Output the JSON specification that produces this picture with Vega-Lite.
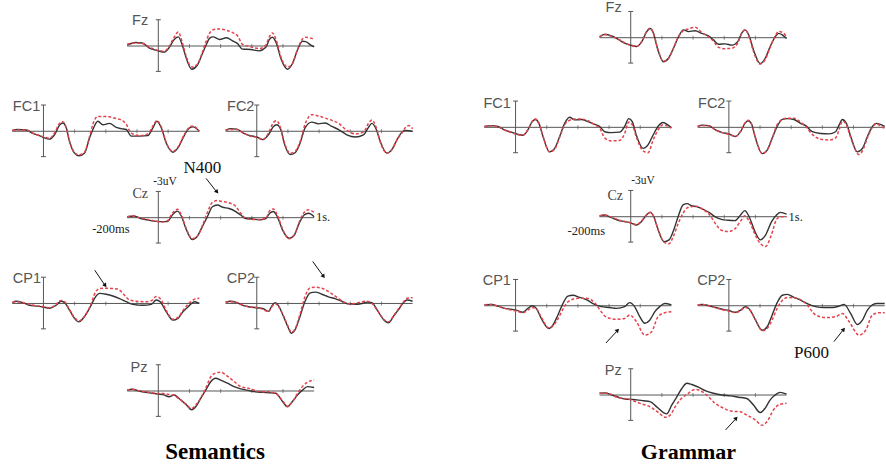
{
"$schema": "https://vega.github.io/schema/vega-lite/v6.json",
"background": "white",
"padding": {"left": 9.3, "top": 0, "right": 5, "bottom": 5},
"bounds": "flush",
"columns": 4,
"spacing": {"row": 17.8, "column": 26.3},
"config": {"view": {"stroke": null}},
"datasets": {
"tk": [{"t":200},{"t":400},{"t":600},{"t":800}],
"w": [
{"p":"SFz","c":"b","t":-200,"v":-0.1},{"p":"SFz","c":"b","t":-146,"v":-0.4},{"p":"SFz","c":"b","t":-103,"v":-0.35},{"p":"SFz","c":"b","t":-60,"v":0.2},{"p":"SFz","c":"b","t":0,"v":0.55},{"p":"SFz","c":"b","t":36,"v":0.7},{"p":"SFz","c":"b","t":69,"v":0.2},{"p":"SFz","c":"b","t":100,"v":-0.7},{"p":"SFz","c":"b","t":128,"v":-1.05},{"p":"SFz","c":"b","t":154,"v":-0.1},{"p":"SFz","c":"b","t":176,"v":1.2},{"p":"SFz","c":"b","t":214,"v":2.65},{"p":"SFz","c":"b","t":250,"v":2.2},{"p":"SFz","c":"b","t":283,"v":0.85},{"p":"SFz","c":"b","t":304,"v":0},{"p":"SFz","c":"b","t":330,"v":-0.9},{"p":"SFz","c":"b","t":351,"v":-1.05},{"p":"SFz","c":"b","t":394,"v":-0.75},{"p":"SFz","c":"b","t":437,"v":-0.95},{"p":"SFz","c":"b","t":480,"v":-0.55},{"p":"SFz","c":"b","t":507,"v":-0.3},{"p":"SFz","c":"b","t":540,"v":0.35},{"p":"SFz","c":"b","t":593,"v":0.4},{"p":"SFz","c":"b","t":647,"v":0.55},{"p":"SFz","c":"b","t":690,"v":0.15},{"p":"SFz","c":"b","t":711,"v":-0.7},{"p":"SFz","c":"b","t":732,"v":-1.0},{"p":"SFz","c":"b","t":758,"v":-0.3},{"p":"SFz","c":"b","t":786,"v":1.4},{"p":"SFz","c":"b","t":829,"v":2.65},{"p":"SFz","c":"b","t":861,"v":2.0},{"p":"SFz","c":"b","t":893,"v":0.45},{"p":"SFz","c":"b","t":925,"v":-0.55},{"p":"SFz","c":"b","t":946,"v":-0.5},{"p":"SFz","c":"b","t":979,"v":-0.1},{"p":"SFz","c":"b","t":1000,"v":0.1},
{"p":"SFz","c":"r","t":-200,"v":-0.2},{"p":"SFz","c":"r","t":-146,"v":-0.35},{"p":"SFz","c":"r","t":-103,"v":-0.3},{"p":"SFz","c":"r","t":-60,"v":0.1},{"p":"SFz","c":"r","t":0,"v":0.5},{"p":"SFz","c":"r","t":36,"v":0.6},{"p":"SFz","c":"r","t":69,"v":0.05},{"p":"SFz","c":"r","t":100,"v":-0.95},{"p":"SFz","c":"r","t":128,"v":-1.6},{"p":"SFz","c":"r","t":154,"v":-0.4},{"p":"SFz","c":"r","t":176,"v":1.0},{"p":"SFz","c":"r","t":214,"v":2.4},{"p":"SFz","c":"r","t":250,"v":2.1},{"p":"SFz","c":"r","t":283,"v":0.7},{"p":"SFz","c":"r","t":304,"v":-0.4},{"p":"SFz","c":"r","t":330,"v":-1.5},{"p":"SFz","c":"r","t":351,"v":-1.85},{"p":"SFz","c":"r","t":394,"v":-1.95},{"p":"SFz","c":"r","t":437,"v":-1.8},{"p":"SFz","c":"r","t":480,"v":-1.5},{"p":"SFz","c":"r","t":507,"v":-1.2},{"p":"SFz","c":"r","t":540,"v":-0.2},{"p":"SFz","c":"r","t":593,"v":0.1},{"p":"SFz","c":"r","t":647,"v":0.3},{"p":"SFz","c":"r","t":690,"v":-0.1},{"p":"SFz","c":"r","t":711,"v":-1.0},{"p":"SFz","c":"r","t":732,"v":-1.5},{"p":"SFz","c":"r","t":758,"v":-0.6},{"p":"SFz","c":"r","t":786,"v":1.2},{"p":"SFz","c":"r","t":829,"v":2.4},{"p":"SFz","c":"r","t":861,"v":2.0},{"p":"SFz","c":"r","t":893,"v":0.4},{"p":"SFz","c":"r","t":925,"v":-0.8},{"p":"SFz","c":"r","t":946,"v":-1.0},{"p":"SFz","c":"r","t":979,"v":-0.9},{"p":"SFz","c":"r","t":1000,"v":-0.75},
{"p":"SFC1","c":"b","t":-200,"v":-0.1},{"p":"SFC1","c":"b","t":-165,"v":-0.2},{"p":"SFC1","c":"b","t":-111,"v":-0.15},{"p":"SFC1","c":"b","t":-69,"v":0.25},{"p":"SFC1","c":"b","t":-26,"v":0.5},{"p":"SFC1","c":"b","t":6,"v":0.75},{"p":"SFC1","c":"b","t":39,"v":0.9},{"p":"SFC1","c":"b","t":71,"v":0.4},{"p":"SFC1","c":"b","t":103,"v":-0.7},{"p":"SFC1","c":"b","t":124,"v":-0.95},{"p":"SFC1","c":"b","t":146,"v":-0.4},{"p":"SFC1","c":"b","t":167,"v":1.15},{"p":"SFC1","c":"b","t":199,"v":2.5},{"p":"SFC1","c":"b","t":227,"v":2.8},{"p":"SFC1","c":"b","t":263,"v":2.5},{"p":"SFC1","c":"b","t":296,"v":0.75},{"p":"SFC1","c":"b","t":317,"v":-0.2},{"p":"SFC1","c":"b","t":349,"v":-1.15},{"p":"SFC1","c":"b","t":381,"v":-0.75},{"p":"SFC1","c":"b","t":424,"v":-0.9},{"p":"SFC1","c":"b","t":467,"v":-0.45},{"p":"SFC1","c":"b","t":499,"v":-0.3},{"p":"SFC1","c":"b","t":531,"v":-0.2},{"p":"SFC1","c":"b","t":563,"v":0.55},{"p":"SFC1","c":"b","t":617,"v":0.55},{"p":"SFC1","c":"b","t":670,"v":0.5},{"p":"SFC1","c":"b","t":702,"v":-0.4},{"p":"SFC1","c":"b","t":728,"v":-1.15},{"p":"SFC1","c":"b","t":756,"v":-0.4},{"p":"SFC1","c":"b","t":788,"v":1.35},{"p":"SFC1","c":"b","t":831,"v":2.4},{"p":"SFC1","c":"b","t":863,"v":1.9},{"p":"SFC1","c":"b","t":906,"v":0.4},{"p":"SFC1","c":"b","t":938,"v":-0.4},{"p":"SFC1","c":"b","t":959,"v":-0.5},{"p":"SFC1","c":"b","t":1000,"v":0},
{"p":"SFC1","c":"r","t":-200,"v":-0.1},{"p":"SFC1","c":"r","t":-165,"v":-0.15},{"p":"SFC1","c":"r","t":-111,"v":-0.15},{"p":"SFC1","c":"r","t":-69,"v":0.2},{"p":"SFC1","c":"r","t":-26,"v":0.5},{"p":"SFC1","c":"r","t":6,"v":0.65},{"p":"SFC1","c":"r","t":39,"v":0.8},{"p":"SFC1","c":"r","t":71,"v":0.2},{"p":"SFC1","c":"r","t":103,"v":-0.9},{"p":"SFC1","c":"r","t":124,"v":-1.1},{"p":"SFC1","c":"r","t":146,"v":-0.4},{"p":"SFC1","c":"r","t":167,"v":1.1},{"p":"SFC1","c":"r","t":199,"v":2.4},{"p":"SFC1","c":"r","t":227,"v":2.7},{"p":"SFC1","c":"r","t":263,"v":2.4},{"p":"SFC1","c":"r","t":296,"v":0.6},{"p":"SFC1","c":"r","t":317,"v":-0.8},{"p":"SFC1","c":"r","t":349,"v":-1.7},{"p":"SFC1","c":"r","t":381,"v":-1.7},{"p":"SFC1","c":"r","t":424,"v":-1.65},{"p":"SFC1","c":"r","t":467,"v":-1.45},{"p":"SFC1","c":"r","t":499,"v":-1.3},{"p":"SFC1","c":"r","t":531,"v":-0.8},{"p":"SFC1","c":"r","t":563,"v":0.2},{"p":"SFC1","c":"r","t":617,"v":0.5},{"p":"SFC1","c":"r","t":670,"v":0.3},{"p":"SFC1","c":"r","t":702,"v":-0.6},{"p":"SFC1","c":"r","t":728,"v":-1.2},{"p":"SFC1","c":"r","t":756,"v":-0.5},{"p":"SFC1","c":"r","t":788,"v":1.3},{"p":"SFC1","c":"r","t":831,"v":2.3},{"p":"SFC1","c":"r","t":863,"v":1.8},{"p":"SFC1","c":"r","t":906,"v":0.3},{"p":"SFC1","c":"r","t":938,"v":-0.5},{"p":"SFC1","c":"r","t":959,"v":-0.6},{"p":"SFC1","c":"r","t":1000,"v":0},
{"p":"SFC2","c":"b","t":-200,"v":-0.1},{"p":"SFC2","c":"b","t":-171,"v":-0.3},{"p":"SFC2","c":"b","t":-128,"v":-0.25},{"p":"SFC2","c":"b","t":-86,"v":0.2},{"p":"SFC2","c":"b","t":-43,"v":0.5},{"p":"SFC2","c":"b","t":0,"v":0.65},{"p":"SFC2","c":"b","t":39,"v":0.95},{"p":"SFC2","c":"b","t":75,"v":0.4},{"p":"SFC2","c":"b","t":107,"v":-0.55},{"p":"SFC2","c":"b","t":128,"v":-0.75},{"p":"SFC2","c":"b","t":154,"v":-0.2},{"p":"SFC2","c":"b","t":176,"v":1.35},{"p":"SFC2","c":"b","t":214,"v":2.65},{"p":"SFC2","c":"b","t":246,"v":2.45},{"p":"SFC2","c":"b","t":278,"v":1.35},{"p":"SFC2","c":"b","t":310,"v":-0.4},{"p":"SFC2","c":"b","t":353,"v":-1.05},{"p":"SFC2","c":"b","t":396,"v":-0.85},{"p":"SFC2","c":"b","t":439,"v":-0.95},{"p":"SFC2","c":"b","t":482,"v":-0.55},{"p":"SFC2","c":"b","t":525,"v":-0.2},{"p":"SFC2","c":"b","t":578,"v":0.4},{"p":"SFC2","c":"b","t":632,"v":0.65},{"p":"SFC2","c":"b","t":685,"v":0.4},{"p":"SFC2","c":"b","t":717,"v":-0.45},{"p":"SFC2","c":"b","t":739,"v":-0.9},{"p":"SFC2","c":"b","t":767,"v":-0.2},{"p":"SFC2","c":"b","t":792,"v":1.15},{"p":"SFC2","c":"b","t":835,"v":2.5},{"p":"SFC2","c":"b","t":867,"v":2.1},{"p":"SFC2","c":"b","t":899,"v":1.0},{"p":"SFC2","c":"b","t":931,"v":0.1},{"p":"SFC2","c":"b","t":953,"v":-0.1},{"p":"SFC2","c":"b","t":1000,"v":0},
{"p":"SFC2","c":"r","t":-200,"v":-0.1},{"p":"SFC2","c":"r","t":-171,"v":-0.2},{"p":"SFC2","c":"r","t":-128,"v":-0.2},{"p":"SFC2","c":"r","t":-86,"v":0.2},{"p":"SFC2","c":"r","t":-43,"v":0.55},{"p":"SFC2","c":"r","t":0,"v":0.7},{"p":"SFC2","c":"r","t":39,"v":0.95},{"p":"SFC2","c":"r","t":75,"v":0.2},{"p":"SFC2","c":"r","t":107,"v":-1.0},{"p":"SFC2","c":"r","t":128,"v":-1.2},{"p":"SFC2","c":"r","t":154,"v":-0.3},{"p":"SFC2","c":"r","t":176,"v":1.2},{"p":"SFC2","c":"r","t":214,"v":2.5},{"p":"SFC2","c":"r","t":246,"v":2.3},{"p":"SFC2","c":"r","t":278,"v":1.2},{"p":"SFC2","c":"r","t":310,"v":-0.8},{"p":"SFC2","c":"r","t":353,"v":-1.9},{"p":"SFC2","c":"r","t":396,"v":-1.75},{"p":"SFC2","c":"r","t":439,"v":-1.5},{"p":"SFC2","c":"r","t":482,"v":-1.25},{"p":"SFC2","c":"r","t":525,"v":-0.9},{"p":"SFC2","c":"r","t":578,"v":-0.1},{"p":"SFC2","c":"r","t":632,"v":0.3},{"p":"SFC2","c":"r","t":685,"v":0.1},{"p":"SFC2","c":"r","t":717,"v":-0.9},{"p":"SFC2","c":"r","t":739,"v":-1.3},{"p":"SFC2","c":"r","t":767,"v":-0.4},{"p":"SFC2","c":"r","t":792,"v":1.2},{"p":"SFC2","c":"r","t":835,"v":2.5},{"p":"SFC2","c":"r","t":867,"v":2.1},{"p":"SFC2","c":"r","t":899,"v":1.0},{"p":"SFC2","c":"r","t":931,"v":0.2},{"p":"SFC2","c":"r","t":953,"v":-0.4},{"p":"SFC2","c":"r","t":975,"v":-0.65},{"p":"SFC2","c":"r","t":1000,"v":-0.3},
{"p":"SCz","c":"b","t":-200,"v":-0.1},{"p":"SCz","c":"b","t":-156,"v":-0.2},{"p":"SCz","c":"b","t":-113,"v":0.1},{"p":"SCz","c":"b","t":-71,"v":0.25},{"p":"SCz","c":"b","t":-28,"v":0.4},{"p":"SCz","c":"b","t":15,"v":0.45},{"p":"SCz","c":"b","t":58,"v":0.45},{"p":"SCz","c":"b","t":90,"v":-0.3},{"p":"SCz","c":"b","t":122,"v":-0.75},{"p":"SCz","c":"b","t":150,"v":-0.1},{"p":"SCz","c":"b","t":176,"v":1.2},{"p":"SCz","c":"b","t":218,"v":2.5},{"p":"SCz","c":"b","t":251,"v":2.1},{"p":"SCz","c":"b","t":283,"v":1.0},{"p":"SCz","c":"b","t":315,"v":-0.1},{"p":"SCz","c":"b","t":347,"v":-1.25},{"p":"SCz","c":"b","t":379,"v":-1.45},{"p":"SCz","c":"b","t":411,"v":-1.2},{"p":"SCz","c":"b","t":454,"v":-1.05},{"p":"SCz","c":"b","t":497,"v":-0.7},{"p":"SCz","c":"b","t":529,"v":-0.3},{"p":"SCz","c":"b","t":561,"v":0.1},{"p":"SCz","c":"b","t":604,"v":0.15},{"p":"SCz","c":"b","t":647,"v":0.25},{"p":"SCz","c":"b","t":690,"v":0.1},{"p":"SCz","c":"b","t":715,"v":-0.5},{"p":"SCz","c":"b","t":737,"v":-0.7},{"p":"SCz","c":"b","t":764,"v":-0.1},{"p":"SCz","c":"b","t":797,"v":1.4},{"p":"SCz","c":"b","t":839,"v":2.35},{"p":"SCz","c":"b","t":872,"v":2.0},{"p":"SCz","c":"b","t":904,"v":0.65},{"p":"SCz","c":"b","t":936,"v":-0.3},{"p":"SCz","c":"b","t":964,"v":-0.5},{"p":"SCz","c":"b","t":1000,"v":-0.1},
{"p":"SCz","c":"r","t":-200,"v":-0.1},{"p":"SCz","c":"r","t":-156,"v":-0.2},{"p":"SCz","c":"r","t":-113,"v":0.05},{"p":"SCz","c":"r","t":-71,"v":0.2},{"p":"SCz","c":"r","t":-28,"v":0.35},{"p":"SCz","c":"r","t":15,"v":0.5},{"p":"SCz","c":"r","t":58,"v":0.35},{"p":"SCz","c":"r","t":90,"v":-0.5},{"p":"SCz","c":"r","t":122,"v":-0.95},{"p":"SCz","c":"r","t":150,"v":-0.2},{"p":"SCz","c":"r","t":176,"v":1.1},{"p":"SCz","c":"r","t":218,"v":2.4},{"p":"SCz","c":"r","t":251,"v":2.1},{"p":"SCz","c":"r","t":283,"v":0.9},{"p":"SCz","c":"r","t":315,"v":-0.6},{"p":"SCz","c":"r","t":347,"v":-1.75},{"p":"SCz","c":"r","t":379,"v":-1.95},{"p":"SCz","c":"r","t":411,"v":-1.85},{"p":"SCz","c":"r","t":454,"v":-1.7},{"p":"SCz","c":"r","t":497,"v":-1.3},{"p":"SCz","c":"r","t":529,"v":-0.5},{"p":"SCz","c":"r","t":561,"v":0.05},{"p":"SCz","c":"r","t":604,"v":0.2},{"p":"SCz","c":"r","t":647,"v":0.2},{"p":"SCz","c":"r","t":690,"v":0.05},{"p":"SCz","c":"r","t":715,"v":-0.8},{"p":"SCz","c":"r","t":737,"v":-1.0},{"p":"SCz","c":"r","t":764,"v":-0.3},{"p":"SCz","c":"r","t":797,"v":1.3},{"p":"SCz","c":"r","t":839,"v":2.4},{"p":"SCz","c":"r","t":872,"v":2.0},{"p":"SCz","c":"r","t":904,"v":0.5},{"p":"SCz","c":"r","t":936,"v":-0.6},{"p":"SCz","c":"r","t":964,"v":-0.9},{"p":"SCz","c":"r","t":1000,"v":-0.6},
{"p":"SCP1","c":"b","t":-200,"v":-0.1},{"p":"SCP1","c":"b","t":-176,"v":-0.25},{"p":"SCP1","c":"b","t":-133,"v":-0.1},{"p":"SCP1","c":"b","t":-90,"v":0.2},{"p":"SCP1","c":"b","t":-47,"v":0.3},{"p":"SCP1","c":"b","t":-4,"v":0.4},{"p":"SCP1","c":"b","t":39,"v":0.55},{"p":"SCP1","c":"b","t":81,"v":0.2},{"p":"SCP1","c":"b","t":113,"v":-0.25},{"p":"SCP1","c":"b","t":135,"v":-0.1},{"p":"SCP1","c":"b","t":167,"v":0.75},{"p":"SCP1","c":"b","t":199,"v":1.7},{"p":"SCP1","c":"b","t":227,"v":2.1},{"p":"SCP1","c":"b","t":263,"v":1.5},{"p":"SCP1","c":"b","t":300,"v":0.4},{"p":"SCP1","c":"b","t":334,"v":-0.75},{"p":"SCP1","c":"b","t":360,"v":-1.15},{"p":"SCP1","c":"b","t":403,"v":-1.05},{"p":"SCP1","c":"b","t":445,"v":-0.85},{"p":"SCP1","c":"b","t":488,"v":-0.55},{"p":"SCP1","c":"b","t":531,"v":-0.2},{"p":"SCP1","c":"b","t":574,"v":0.1},{"p":"SCP1","c":"b","t":638,"v":0.2},{"p":"SCP1","c":"b","t":692,"v":0.1},{"p":"SCP1","c":"b","t":724,"v":-0.4},{"p":"SCP1","c":"b","t":749,"v":-0.2},{"p":"SCP1","c":"b","t":788,"v":0.95},{"p":"SCP1","c":"b","t":831,"v":1.9},{"p":"SCP1","c":"b","t":863,"v":1.7},{"p":"SCP1","c":"b","t":895,"v":0.95},{"p":"SCP1","c":"b","t":927,"v":0.4},{"p":"SCP1","c":"b","t":970,"v":-0.2},{"p":"SCP1","c":"b","t":1000,"v":0},
{"p":"SCP1","c":"r","t":-200,"v":-0.1},{"p":"SCP1","c":"r","t":-176,"v":-0.2},{"p":"SCP1","c":"r","t":-133,"v":-0.1},{"p":"SCP1","c":"r","t":-90,"v":0.1},{"p":"SCP1","c":"r","t":-47,"v":0.25},{"p":"SCP1","c":"r","t":-4,"v":0.35},{"p":"SCP1","c":"r","t":39,"v":0.5},{"p":"SCP1","c":"r","t":81,"v":0.1},{"p":"SCP1","c":"r","t":113,"v":-0.35},{"p":"SCP1","c":"r","t":135,"v":-0.2},{"p":"SCP1","c":"r","t":167,"v":0.7},{"p":"SCP1","c":"r","t":199,"v":1.6},{"p":"SCP1","c":"r","t":227,"v":2.0},{"p":"SCP1","c":"r","t":263,"v":1.45},{"p":"SCP1","c":"r","t":300,"v":0.3},{"p":"SCP1","c":"r","t":334,"v":-1.3},{"p":"SCP1","c":"r","t":360,"v":-1.7},{"p":"SCP1","c":"r","t":403,"v":-1.75},{"p":"SCP1","c":"r","t":445,"v":-1.7},{"p":"SCP1","c":"r","t":477,"v":-1.65},{"p":"SCP1","c":"r","t":510,"v":-1.15},{"p":"SCP1","c":"r","t":552,"v":-0.4},{"p":"SCP1","c":"r","t":600,"v":-0.25},{"p":"SCP1","c":"r","t":650,"v":-0.2},{"p":"SCP1","c":"r","t":692,"v":-0.3},{"p":"SCP1","c":"r","t":724,"v":-0.8},{"p":"SCP1","c":"r","t":756,"v":-0.4},{"p":"SCP1","c":"r","t":788,"v":0.8},{"p":"SCP1","c":"r","t":831,"v":1.8},{"p":"SCP1","c":"r","t":863,"v":1.6},{"p":"SCP1","c":"r","t":895,"v":0.8},{"p":"SCP1","c":"r","t":927,"v":0.1},{"p":"SCP1","c":"r","t":970,"v":-0.5},{"p":"SCP1","c":"r","t":1000,"v":-0.6},
{"p":"SCP2","c":"b","t":-200,"v":-0.15},{"p":"SCP2","c":"b","t":-171,"v":-0.25},{"p":"SCP2","c":"b","t":-128,"v":-0.1},{"p":"SCP2","c":"b","t":-86,"v":0.25},{"p":"SCP2","c":"b","t":-43,"v":0.4},{"p":"SCP2","c":"b","t":0,"v":0.5},{"p":"SCP2","c":"b","t":43,"v":0.6},{"p":"SCP2","c":"b","t":75,"v":0.9},{"p":"SCP2","c":"b","t":96,"v":0.3},{"p":"SCP2","c":"b","t":118,"v":-0.1},{"p":"SCP2","c":"b","t":139,"v":0.25},{"p":"SCP2","c":"b","t":171,"v":1.45},{"p":"SCP2","c":"b","t":203,"v":2.8},{"p":"SCP2","c":"b","t":222,"v":3.4},{"p":"SCP2","c":"b","t":246,"v":3.0},{"p":"SCP2","c":"b","t":278,"v":1.45},{"p":"SCP2","c":"b","t":310,"v":-0.25},{"p":"SCP2","c":"b","t":343,"v":-1.2},{"p":"SCP2","c":"b","t":375,"v":-1.3},{"p":"SCP2","c":"b","t":418,"v":-1.05},{"p":"SCP2","c":"b","t":460,"v":-0.75},{"p":"SCP2","c":"b","t":503,"v":-0.55},{"p":"SCP2","c":"b","t":546,"v":-0.25},{"p":"SCP2","c":"b","t":589,"v":0.05},{"p":"SCP2","c":"b","t":632,"v":0.1},{"p":"SCP2","c":"b","t":675,"v":0},{"p":"SCP2","c":"b","t":707,"v":-0.15},{"p":"SCP2","c":"b","t":739,"v":-0.1},{"p":"SCP2","c":"b","t":771,"v":0.7},{"p":"SCP2","c":"b","t":814,"v":1.85},{"p":"SCP2","c":"b","t":846,"v":2.2},{"p":"SCP2","c":"b","t":878,"v":1.45},{"p":"SCP2","c":"b","t":910,"v":0.7},{"p":"SCP2","c":"b","t":942,"v":-0.1},{"p":"SCP2","c":"b","t":964,"v":-0.4},{"p":"SCP2","c":"b","t":1000,"v":-0.25},
{"p":"SCP2","c":"r","t":-200,"v":-0.15},{"p":"SCP2","c":"r","t":-171,"v":-0.2},{"p":"SCP2","c":"r","t":-128,"v":-0.1},{"p":"SCP2","c":"r","t":-86,"v":0.2},{"p":"SCP2","c":"r","t":-43,"v":0.4},{"p":"SCP2","c":"r","t":0,"v":0.45},{"p":"SCP2","c":"r","t":43,"v":0.7},{"p":"SCP2","c":"r","t":75,"v":0.95},{"p":"SCP2","c":"r","t":96,"v":0.4},{"p":"SCP2","c":"r","t":118,"v":0},{"p":"SCP2","c":"r","t":139,"v":0.35},{"p":"SCP2","c":"r","t":171,"v":1.4},{"p":"SCP2","c":"r","t":203,"v":2.7},{"p":"SCP2","c":"r","t":222,"v":3.3},{"p":"SCP2","c":"r","t":246,"v":2.9},{"p":"SCP2","c":"r","t":278,"v":1.2},{"p":"SCP2","c":"r","t":310,"v":-0.8},{"p":"SCP2","c":"r","t":343,"v":-1.8},{"p":"SCP2","c":"r","t":375,"v":-1.85},{"p":"SCP2","c":"r","t":418,"v":-1.75},{"p":"SCP2","c":"r","t":460,"v":-1.35},{"p":"SCP2","c":"r","t":503,"v":-0.85},{"p":"SCP2","c":"r","t":546,"v":-0.3},{"p":"SCP2","c":"r","t":589,"v":0.05},{"p":"SCP2","c":"r","t":632,"v":0},{"p":"SCP2","c":"r","t":675,"v":-0.2},{"p":"SCP2","c":"r","t":707,"v":-0.25},{"p":"SCP2","c":"r","t":739,"v":0},{"p":"SCP2","c":"r","t":771,"v":0.7},{"p":"SCP2","c":"r","t":814,"v":1.8},{"p":"SCP2","c":"r","t":846,"v":2.1},{"p":"SCP2","c":"r","t":878,"v":1.4},{"p":"SCP2","c":"r","t":910,"v":0.6},{"p":"SCP2","c":"r","t":942,"v":-0.2},{"p":"SCP2","c":"r","t":964,"v":-0.6},{"p":"SCP2","c":"r","t":1000,"v":-0.65},
{"p":"SPz","c":"b","t":-200,"v":-0.1},{"p":"SPz","c":"b","t":-167,"v":-0.2},{"p":"SPz","c":"b","t":-124,"v":0},{"p":"SPz","c":"b","t":-81,"v":0.15},{"p":"SPz","c":"b","t":-39,"v":0.25},{"p":"SPz","c":"b","t":0,"v":0.35},{"p":"SPz","c":"b","t":36,"v":0.45},{"p":"SPz","c":"b","t":69,"v":0.65},{"p":"SPz","c":"b","t":101,"v":0.45},{"p":"SPz","c":"b","t":133,"v":0.85},{"p":"SPz","c":"b","t":176,"v":1.5},{"p":"SPz","c":"b","t":214,"v":2.15},{"p":"SPz","c":"b","t":240,"v":1.8},{"p":"SPz","c":"b","t":272,"v":0.85},{"p":"SPz","c":"b","t":304,"v":-0.1},{"p":"SPz","c":"b","t":336,"v":-1.05},{"p":"SPz","c":"b","t":368,"v":-1.45},{"p":"SPz","c":"b","t":400,"v":-1.25},{"p":"SPz","c":"b","t":443,"v":-0.9},{"p":"SPz","c":"b","t":486,"v":-0.5},{"p":"SPz","c":"b","t":529,"v":-0.25},{"p":"SPz","c":"b","t":582,"v":-0.05},{"p":"SPz","c":"b","t":625,"v":0.1},{"p":"SPz","c":"b","t":668,"v":0.15},{"p":"SPz","c":"b","t":711,"v":0.2},{"p":"SPz","c":"b","t":754,"v":0.25},{"p":"SPz","c":"b","t":797,"v":1.2},{"p":"SPz","c":"b","t":829,"v":1.8},{"p":"SPz","c":"b","t":861,"v":1.2},{"p":"SPz","c":"b","t":893,"v":0.45},{"p":"SPz","c":"b","t":925,"v":-0.1},{"p":"SPz","c":"b","t":957,"v":-0.5},{"p":"SPz","c":"b","t":1000,"v":-0.4},
{"p":"SPz","c":"r","t":-200,"v":-0.1},{"p":"SPz","c":"r","t":-167,"v":-0.2},{"p":"SPz","c":"r","t":-124,"v":0},{"p":"SPz","c":"r","t":-81,"v":0.1},{"p":"SPz","c":"r","t":-39,"v":0.2},{"p":"SPz","c":"r","t":0,"v":0.3},{"p":"SPz","c":"r","t":36,"v":0.3},{"p":"SPz","c":"r","t":69,"v":0.4},{"p":"SPz","c":"r","t":101,"v":0.5},{"p":"SPz","c":"r","t":133,"v":0.9},{"p":"SPz","c":"r","t":176,"v":1.5},{"p":"SPz","c":"r","t":214,"v":2.0},{"p":"SPz","c":"r","t":240,"v":1.6},{"p":"SPz","c":"r","t":272,"v":0.8},{"p":"SPz","c":"r","t":304,"v":-0.3},{"p":"SPz","c":"r","t":336,"v":-1.6},{"p":"SPz","c":"r","t":368,"v":-2.05},{"p":"SPz","c":"r","t":400,"v":-2.15},{"p":"SPz","c":"r","t":443,"v":-1.7},{"p":"SPz","c":"r","t":486,"v":-1.1},{"p":"SPz","c":"r","t":529,"v":-0.5},{"p":"SPz","c":"r","t":582,"v":-0.3},{"p":"SPz","c":"r","t":625,"v":-0.05},{"p":"SPz","c":"r","t":668,"v":0.1},{"p":"SPz","c":"r","t":711,"v":0.1},{"p":"SPz","c":"r","t":754,"v":0.3},{"p":"SPz","c":"r","t":797,"v":1.1},{"p":"SPz","c":"r","t":829,"v":1.75},{"p":"SPz","c":"r","t":861,"v":1.2},{"p":"SPz","c":"r","t":893,"v":0.3},{"p":"SPz","c":"r","t":925,"v":-0.5},{"p":"SPz","c":"r","t":957,"v":-1.0},{"p":"SPz","c":"r","t":1000,"v":-1.25},
{"p":"GFz","c":"b","t":-200,"v":-0.1},{"p":"GFz","c":"b","t":-165,"v":-0.4},{"p":"GFz","c":"b","t":-122,"v":-0.2},{"p":"GFz","c":"b","t":-79,"v":0.2},{"p":"GFz","c":"b","t":-36,"v":0.65},{"p":"GFz","c":"b","t":0,"v":0.85},{"p":"GFz","c":"b","t":39,"v":1.0},{"p":"GFz","c":"b","t":71,"v":0.45},{"p":"GFz","c":"b","t":103,"v":-0.7},{"p":"GFz","c":"b","t":124,"v":-1.05},{"p":"GFz","c":"b","t":146,"v":-0.5},{"p":"GFz","c":"b","t":171,"v":1.2},{"p":"GFz","c":"b","t":210,"v":2.75},{"p":"GFz","c":"b","t":242,"v":2.35},{"p":"GFz","c":"b","t":274,"v":1.2},{"p":"GFz","c":"b","t":306,"v":-0.1},{"p":"GFz","c":"b","t":338,"v":-0.9},{"p":"GFz","c":"b","t":370,"v":-0.7},{"p":"GFz","c":"b","t":413,"v":-0.8},{"p":"GFz","c":"b","t":456,"v":-0.5},{"p":"GFz","c":"b","t":499,"v":-0.2},{"p":"GFz","c":"b","t":531,"v":0.25},{"p":"GFz","c":"b","t":563,"v":0.75},{"p":"GFz","c":"b","t":606,"v":0.7},{"p":"GFz","c":"b","t":649,"v":0.85},{"p":"GFz","c":"b","t":687,"v":0.45},{"p":"GFz","c":"b","t":713,"v":-0.55},{"p":"GFz","c":"b","t":734,"v":-0.9},{"p":"GFz","c":"b","t":760,"v":-0.2},{"p":"GFz","c":"b","t":788,"v":1.4},{"p":"GFz","c":"b","t":831,"v":2.95},{"p":"GFz","c":"b","t":863,"v":2.35},{"p":"GFz","c":"b","t":895,"v":1.0},{"p":"GFz","c":"b","t":927,"v":-0.1},{"p":"GFz","c":"b","t":949,"v":-0.5},{"p":"GFz","c":"b","t":974,"v":-0.3},{"p":"GFz","c":"b","t":1000,"v":0.1},
{"p":"GFz","c":"r","t":-200,"v":-0.1},{"p":"GFz","c":"r","t":-165,"v":-0.35},{"p":"GFz","c":"r","t":-122,"v":-0.15},{"p":"GFz","c":"r","t":-79,"v":0.2},{"p":"GFz","c":"r","t":-36,"v":0.6},{"p":"GFz","c":"r","t":0,"v":0.9},{"p":"GFz","c":"r","t":39,"v":1.0},{"p":"GFz","c":"r","t":71,"v":0.4},{"p":"GFz","c":"r","t":103,"v":-0.75},{"p":"GFz","c":"r","t":124,"v":-1.1},{"p":"GFz","c":"r","t":146,"v":-0.5},{"p":"GFz","c":"r","t":171,"v":1.1},{"p":"GFz","c":"r","t":210,"v":2.7},{"p":"GFz","c":"r","t":242,"v":2.4},{"p":"GFz","c":"r","t":274,"v":1.2},{"p":"GFz","c":"r","t":306,"v":-0.1},{"p":"GFz","c":"r","t":338,"v":-0.8},{"p":"GFz","c":"r","t":370,"v":-1.0},{"p":"GFz","c":"r","t":413,"v":-1.2},{"p":"GFz","c":"r","t":456,"v":-0.6},{"p":"GFz","c":"r","t":499,"v":-0.1},{"p":"GFz","c":"r","t":531,"v":0.4},{"p":"GFz","c":"r","t":563,"v":1.1},{"p":"GFz","c":"r","t":606,"v":1.25},{"p":"GFz","c":"r","t":649,"v":1.2},{"p":"GFz","c":"r","t":687,"v":0.6},{"p":"GFz","c":"r","t":713,"v":-0.5},{"p":"GFz","c":"r","t":734,"v":-0.9},{"p":"GFz","c":"r","t":760,"v":-0.1},{"p":"GFz","c":"r","t":788,"v":1.6},{"p":"GFz","c":"r","t":831,"v":3.0},{"p":"GFz","c":"r","t":863,"v":2.5},{"p":"GFz","c":"r","t":895,"v":1.1},{"p":"GFz","c":"r","t":927,"v":-0.2},{"p":"GFz","c":"r","t":949,"v":-0.7},{"p":"GFz","c":"r","t":974,"v":-0.6},{"p":"GFz","c":"r","t":1000,"v":-0.1},
{"p":"GFC1","c":"b","t":-200,"v":-0.1},{"p":"GFC1","c":"b","t":-156,"v":-0.2},{"p":"GFC1","c":"b","t":-113,"v":-0.1},{"p":"GFC1","c":"b","t":-71,"v":0.3},{"p":"GFC1","c":"b","t":-28,"v":0.55},{"p":"GFC1","c":"b","t":15,"v":0.8},{"p":"GFC1","c":"b","t":47,"v":0.9},{"p":"GFC1","c":"b","t":79,"v":0.3},{"p":"GFC1","c":"b","t":107,"v":-0.65},{"p":"GFC1","c":"b","t":128,"v":-0.9},{"p":"GFC1","c":"b","t":150,"v":-0.45},{"p":"GFC1","c":"b","t":176,"v":1.05},{"p":"GFC1","c":"b","t":218,"v":2.8},{"p":"GFC1","c":"b","t":251,"v":2.4},{"p":"GFC1","c":"b","t":283,"v":1.05},{"p":"GFC1","c":"b","t":315,"v":-0.45},{"p":"GFC1","c":"b","t":347,"v":-1.15},{"p":"GFC1","c":"b","t":379,"v":-0.85},{"p":"GFC1","c":"b","t":422,"v":-0.9},{"p":"GFC1","c":"b","t":465,"v":-0.65},{"p":"GFC1","c":"b","t":507,"v":-0.35},{"p":"GFC1","c":"b","t":540,"v":-0.1},{"p":"GFC1","c":"b","t":572,"v":0.5},{"p":"GFC1","c":"b","t":615,"v":0.6},{"p":"GFC1","c":"b","t":668,"v":0.55},{"p":"GFC1","c":"b","t":700,"v":-0.1},{"p":"GFC1","c":"b","t":726,"v":-1.0},{"p":"GFC1","c":"b","t":749,"v":-0.65},{"p":"GFC1","c":"b","t":775,"v":0.9},{"p":"GFC1","c":"b","t":818,"v":2.4},{"p":"GFC1","c":"b","t":850,"v":2.0},{"p":"GFC1","c":"b","t":882,"v":0.9},{"p":"GFC1","c":"b","t":914,"v":-0.1},{"p":"GFC1","c":"b","t":946,"v":-0.55},{"p":"GFC1","c":"b","t":979,"v":-0.25},{"p":"GFC1","c":"b","t":1000,"v":0.05},
{"p":"GFC1","c":"r","t":-200,"v":-0.1},{"p":"GFC1","c":"r","t":-156,"v":-0.15},{"p":"GFC1","c":"r","t":-113,"v":-0.05},{"p":"GFC1","c":"r","t":-71,"v":0.3},{"p":"GFC1","c":"r","t":-28,"v":0.6},{"p":"GFC1","c":"r","t":15,"v":0.85},{"p":"GFC1","c":"r","t":47,"v":0.9},{"p":"GFC1","c":"r","t":79,"v":0.25},{"p":"GFC1","c":"r","t":107,"v":-0.7},{"p":"GFC1","c":"r","t":128,"v":-0.95},{"p":"GFC1","c":"r","t":150,"v":-0.45},{"p":"GFC1","c":"r","t":176,"v":1.0},{"p":"GFC1","c":"r","t":218,"v":2.8},{"p":"GFC1","c":"r","t":251,"v":2.5},{"p":"GFC1","c":"r","t":283,"v":1.1},{"p":"GFC1","c":"r","t":315,"v":-0.3},{"p":"GFC1","c":"r","t":347,"v":-0.8},{"p":"GFC1","c":"r","t":379,"v":-0.95},{"p":"GFC1","c":"r","t":422,"v":-0.95},{"p":"GFC1","c":"r","t":465,"v":-0.75},{"p":"GFC1","c":"r","t":507,"v":-0.3},{"p":"GFC1","c":"r","t":540,"v":0.1},{"p":"GFC1","c":"r","t":572,"v":1.2},{"p":"GFC1","c":"r","t":615,"v":1.55},{"p":"GFC1","c":"r","t":668,"v":1.5},{"p":"GFC1","c":"r","t":700,"v":0.7},{"p":"GFC1","c":"r","t":726,"v":-0.6},{"p":"GFC1","c":"r","t":749,"v":-0.3},{"p":"GFC1","c":"r","t":775,"v":1.1},{"p":"GFC1","c":"r","t":818,"v":2.7},{"p":"GFC1","c":"r","t":850,"v":2.9},{"p":"GFC1","c":"r","t":882,"v":1.5},{"p":"GFC1","c":"r","t":914,"v":0.3},{"p":"GFC1","c":"r","t":946,"v":-0.3},{"p":"GFC1","c":"r","t":979,"v":-0.1},{"p":"GFC1","c":"r","t":1000,"v":0.1},
{"p":"GFC2","c":"b","t":-200,"v":-0.1},{"p":"GFC2","c":"b","t":-171,"v":-0.25},{"p":"GFC2","c":"b","t":-128,"v":-0.2},{"p":"GFC2","c":"b","t":-86,"v":0.3},{"p":"GFC2","c":"b","t":-43,"v":0.6},{"p":"GFC2","c":"b","t":0,"v":0.75},{"p":"GFC2","c":"b","t":43,"v":1.05},{"p":"GFC2","c":"b","t":75,"v":0.5},{"p":"GFC2","c":"b","t":103,"v":-0.45},{"p":"GFC2","c":"b","t":124,"v":-0.75},{"p":"GFC2","c":"b","t":146,"v":-0.35},{"p":"GFC2","c":"b","t":171,"v":1.25},{"p":"GFC2","c":"b","t":214,"v":3.0},{"p":"GFC2","c":"b","t":246,"v":2.6},{"p":"GFC2","c":"b","t":278,"v":1.25},{"p":"GFC2","c":"b","t":310,"v":-0.1},{"p":"GFC2","c":"b","t":343,"v":-0.9},{"p":"GFC2","c":"b","t":375,"v":-1.0},{"p":"GFC2","c":"b","t":418,"v":-0.9},{"p":"GFC2","c":"b","t":460,"v":-0.45},{"p":"GFC2","c":"b","t":493,"v":-0.2},{"p":"GFC2","c":"b","t":535,"v":0.5},{"p":"GFC2","c":"b","t":589,"v":0.7},{"p":"GFC2","c":"b","t":642,"v":0.75},{"p":"GFC2","c":"b","t":685,"v":0.5},{"p":"GFC2","c":"b","t":707,"v":-0.25},{"p":"GFC2","c":"b","t":728,"v":-0.9},{"p":"GFC2","c":"b","t":754,"v":-0.45},{"p":"GFC2","c":"b","t":782,"v":1.05},{"p":"GFC2","c":"b","t":824,"v":2.8},{"p":"GFC2","c":"b","t":857,"v":2.4},{"p":"GFC2","c":"b","t":889,"v":1.05},{"p":"GFC2","c":"b","t":921,"v":-0.1},{"p":"GFC2","c":"b","t":946,"v":-0.45},{"p":"GFC2","c":"b","t":1000,"v":-0.1},
{"p":"GFC2","c":"r","t":-200,"v":-0.1},{"p":"GFC2","c":"r","t":-171,"v":-0.2},{"p":"GFC2","c":"r","t":-128,"v":-0.15},{"p":"GFC2","c":"r","t":-86,"v":0.3},{"p":"GFC2","c":"r","t":-43,"v":0.6},{"p":"GFC2","c":"r","t":0,"v":0.8},{"p":"GFC2","c":"r","t":43,"v":1.05},{"p":"GFC2","c":"r","t":75,"v":0.45},{"p":"GFC2","c":"r","t":103,"v":-0.5},{"p":"GFC2","c":"r","t":124,"v":-0.8},{"p":"GFC2","c":"r","t":146,"v":-0.35},{"p":"GFC2","c":"r","t":171,"v":1.2},{"p":"GFC2","c":"r","t":214,"v":3.0},{"p":"GFC2","c":"r","t":246,"v":2.6},{"p":"GFC2","c":"r","t":278,"v":1.2},{"p":"GFC2","c":"r","t":310,"v":-0.3},{"p":"GFC2","c":"r","t":343,"v":-0.9},{"p":"GFC2","c":"r","t":375,"v":-1.05},{"p":"GFC2","c":"r","t":418,"v":-1.05},{"p":"GFC2","c":"r","t":460,"v":-0.6},{"p":"GFC2","c":"r","t":493,"v":-0.1},{"p":"GFC2","c":"r","t":535,"v":0.8},{"p":"GFC2","c":"r","t":589,"v":1.35},{"p":"GFC2","c":"r","t":642,"v":1.45},{"p":"GFC2","c":"r","t":685,"v":1.2},{"p":"GFC2","c":"r","t":707,"v":0.3},{"p":"GFC2","c":"r","t":728,"v":-0.7},{"p":"GFC2","c":"r","t":754,"v":-0.3},{"p":"GFC2","c":"r","t":782,"v":1.2},{"p":"GFC2","c":"r","t":835,"v":3.1},{"p":"GFC2","c":"r","t":857,"v":2.7},{"p":"GFC2","c":"r","t":889,"v":1.2},{"p":"GFC2","c":"r","t":921,"v":0},{"p":"GFC2","c":"r","t":946,"v":-0.45},{"p":"GFC2","c":"r","t":974,"v":-0.1},{"p":"GFC2","c":"r","t":1000,"v":0.1},
{"p":"GCz","c":"b","t":-200,"v":-0.1},{"p":"GCz","c":"b","t":-167,"v":-0.2},{"p":"GCz","c":"b","t":-124,"v":0.1},{"p":"GCz","c":"b","t":-81,"v":0.4},{"p":"GCz","c":"b","t":-39,"v":0.55},{"p":"GCz","c":"b","t":0,"v":0.7},{"p":"GCz","c":"b","t":36,"v":0.95},{"p":"GCz","c":"b","t":69,"v":0.55},{"p":"GCz","c":"b","t":101,"v":-0.2},{"p":"GCz","c":"b","t":126,"v":-0.5},{"p":"GCz","c":"b","t":148,"v":0},{"p":"GCz","c":"b","t":176,"v":1.5},{"p":"GCz","c":"b","t":214,"v":2.85},{"p":"GCz","c":"b","t":246,"v":2.65},{"p":"GCz","c":"b","t":272,"v":1.7},{"p":"GCz","c":"b","t":304,"v":0},{"p":"GCz","c":"b","t":336,"v":-1.35},{"p":"GCz","c":"b","t":362,"v":-1.5},{"p":"GCz","c":"b","t":390,"v":-1.25},{"p":"GCz","c":"b","t":422,"v":-1.15},{"p":"GCz","c":"b","t":465,"v":-0.85},{"p":"GCz","c":"b","t":507,"v":-0.45},{"p":"GCz","c":"b","t":540,"v":0},{"p":"GCz","c":"b","t":582,"v":0.3},{"p":"GCz","c":"b","t":625,"v":0.4},{"p":"GCz","c":"b","t":668,"v":0.45},{"p":"GCz","c":"b","t":705,"v":-0.2},{"p":"GCz","c":"b","t":732,"v":-0.7},{"p":"GCz","c":"b","t":760,"v":0},{"p":"GCz","c":"b","t":797,"v":1.7},{"p":"GCz","c":"b","t":833,"v":2.65},{"p":"GCz","c":"b","t":865,"v":2.1},{"p":"GCz","c":"b","t":904,"v":0.55},{"p":"GCz","c":"b","t":936,"v":-0.2},{"p":"GCz","c":"b","t":961,"v":-0.5},{"p":"GCz","c":"b","t":1000,"v":-0.3},
{"p":"GCz","c":"r","t":-200,"v":-0.1},{"p":"GCz","c":"r","t":-167,"v":-0.2},{"p":"GCz","c":"r","t":-124,"v":0.05},{"p":"GCz","c":"r","t":-81,"v":0.35},{"p":"GCz","c":"r","t":-39,"v":0.55},{"p":"GCz","c":"r","t":0,"v":0.7},{"p":"GCz","c":"r","t":36,"v":0.9},{"p":"GCz","c":"r","t":69,"v":0.5},{"p":"GCz","c":"r","t":101,"v":-0.2},{"p":"GCz","c":"r","t":126,"v":-0.5},{"p":"GCz","c":"r","t":148,"v":0},{"p":"GCz","c":"r","t":176,"v":1.5},{"p":"GCz","c":"r","t":214,"v":2.9},{"p":"GCz","c":"r","t":246,"v":3.1},{"p":"GCz","c":"r","t":272,"v":2.3},{"p":"GCz","c":"r","t":304,"v":0.8},{"p":"GCz","c":"r","t":336,"v":-0.4},{"p":"GCz","c":"r","t":362,"v":-1.0},{"p":"GCz","c":"r","t":390,"v":-1.15},{"p":"GCz","c":"r","t":422,"v":-1.2},{"p":"GCz","c":"r","t":465,"v":-0.8},{"p":"GCz","c":"r","t":507,"v":-0.2},{"p":"GCz","c":"r","t":540,"v":0.7},{"p":"GCz","c":"r","t":582,"v":1.55},{"p":"GCz","c":"r","t":625,"v":1.7},{"p":"GCz","c":"r","t":668,"v":1.4},{"p":"GCz","c":"r","t":705,"v":0.5},{"p":"GCz","c":"r","t":732,"v":-0.1},{"p":"GCz","c":"r","t":760,"v":0.5},{"p":"GCz","c":"r","t":797,"v":2.0},{"p":"GCz","c":"r","t":833,"v":3.1},{"p":"GCz","c":"r","t":865,"v":3.4},{"p":"GCz","c":"r","t":904,"v":2.0},{"p":"GCz","c":"r","t":936,"v":0.3},{"p":"GCz","c":"r","t":961,"v":0},{"p":"GCz","c":"r","t":1000,"v":0},
{"p":"GCP1","c":"b","t":-200,"v":-0.1},{"p":"GCP1","c":"b","t":-156,"v":-0.15},{"p":"GCP1","c":"b","t":-113,"v":0.05},{"p":"GCP1","c":"b","t":-71,"v":0.3},{"p":"GCP1","c":"b","t":-28,"v":0.4},{"p":"GCP1","c":"b","t":4,"v":0.5},{"p":"GCP1","c":"b","t":47,"v":0.75},{"p":"GCP1","c":"b","t":79,"v":0.3},{"p":"GCP1","c":"b","t":107,"v":0},{"p":"GCP1","c":"b","t":133,"v":0.3},{"p":"GCP1","c":"b","t":165,"v":1.45},{"p":"GCP1","c":"b","t":214,"v":2.6},{"p":"GCP1","c":"b","t":240,"v":2.2},{"p":"GCP1","c":"b","t":272,"v":1.05},{"p":"GCP1","c":"b","t":304,"v":-0.25},{"p":"GCP1","c":"b","t":336,"v":-1.1},{"p":"GCP1","c":"b","t":368,"v":-1.2},{"p":"GCP1","c":"b","t":411,"v":-0.95},{"p":"GCP1","c":"b","t":454,"v":-0.7},{"p":"GCP1","c":"b","t":497,"v":-0.25},{"p":"GCP1","c":"b","t":550,"v":0.1},{"p":"GCP1","c":"b","t":604,"v":0.2},{"p":"GCP1","c":"b","t":647,"v":0.3},{"p":"GCP1","c":"b","t":700,"v":0.1},{"p":"GCP1","c":"b","t":732,"v":-0.35},{"p":"GCP1","c":"b","t":764,"v":0.1},{"p":"GCP1","c":"b","t":797,"v":1.25},{"p":"GCP1","c":"b","t":829,"v":2.0},{"p":"GCP1","c":"b","t":861,"v":1.65},{"p":"GCP1","c":"b","t":893,"v":0.7},{"p":"GCP1","c":"b","t":925,"v":0.1},{"p":"GCP1","c":"b","t":957,"v":-0.25},{"p":"GCP1","c":"b","t":1000,"v":-0.1},
{"p":"GCP1","c":"r","t":-200,"v":-0.1},{"p":"GCP1","c":"r","t":-156,"v":-0.15},{"p":"GCP1","c":"r","t":-113,"v":0.05},{"p":"GCP1","c":"r","t":-71,"v":0.3},{"p":"GCP1","c":"r","t":-28,"v":0.5},{"p":"GCP1","c":"r","t":4,"v":0.6},{"p":"GCP1","c":"r","t":47,"v":0.8},{"p":"GCP1","c":"r","t":79,"v":0.5},{"p":"GCP1","c":"r","t":107,"v":0.2},{"p":"GCP1","c":"r","t":133,"v":0.35},{"p":"GCP1","c":"r","t":165,"v":1.3},{"p":"GCP1","c":"r","t":214,"v":2.55},{"p":"GCP1","c":"r","t":240,"v":2.3},{"p":"GCP1","c":"r","t":272,"v":1.5},{"p":"GCP1","c":"r","t":304,"v":0.4},{"p":"GCP1","c":"r","t":336,"v":-0.45},{"p":"GCP1","c":"r","t":400,"v":-0.85},{"p":"GCP1","c":"r","t":454,"v":-0.85},{"p":"GCP1","c":"r","t":507,"v":-0.35},{"p":"GCP1","c":"r","t":550,"v":0.7},{"p":"GCP1","c":"r","t":582,"v":1.3},{"p":"GCP1","c":"r","t":647,"v":1.55},{"p":"GCP1","c":"r","t":700,"v":1.45},{"p":"GCP1","c":"r","t":732,"v":1.05},{"p":"GCP1","c":"r","t":775,"v":1.8},{"p":"GCP1","c":"r","t":829,"v":3.35},{"p":"GCP1","c":"r","t":872,"v":3.0},{"p":"GCP1","c":"r","t":914,"v":1.25},{"p":"GCP1","c":"r","t":957,"v":0.8},{"p":"GCP1","c":"r","t":1000,"v":0.7},
{"p":"GCP2","c":"b","t":-200,"v":-0.1},{"p":"GCP2","c":"b","t":-171,"v":-0.15},{"p":"GCP2","c":"b","t":-128,"v":0},{"p":"GCP2","c":"b","t":-86,"v":0.2},{"p":"GCP2","c":"b","t":-43,"v":0.4},{"p":"GCP2","c":"b","t":0,"v":0.55},{"p":"GCP2","c":"b","t":43,"v":0.75},{"p":"GCP2","c":"b","t":75,"v":0.5},{"p":"GCP2","c":"b","t":107,"v":0.1},{"p":"GCP2","c":"b","t":139,"v":0.55},{"p":"GCP2","c":"b","t":171,"v":1.65},{"p":"GCP2","c":"b","t":214,"v":2.8},{"p":"GCP2","c":"b","t":246,"v":2.4},{"p":"GCP2","c":"b","t":278,"v":1.05},{"p":"GCP2","c":"b","t":310,"v":-0.35},{"p":"GCP2","c":"b","t":343,"v":-1.2},{"p":"GCP2","c":"b","t":375,"v":-1.3},{"p":"GCP2","c":"b","t":418,"v":-0.95},{"p":"GCP2","c":"b","t":460,"v":-0.65},{"p":"GCP2","c":"b","t":503,"v":-0.25},{"p":"GCP2","c":"b","t":557,"v":0.1},{"p":"GCP2","c":"b","t":610,"v":0.2},{"p":"GCP2","c":"b","t":664,"v":0.2},{"p":"GCP2","c":"b","t":707,"v":0.05},{"p":"GCP2","c":"b","t":739,"v":-0.15},{"p":"GCP2","c":"b","t":782,"v":0.9},{"p":"GCP2","c":"b","t":824,"v":2.15},{"p":"GCP2","c":"b","t":857,"v":1.65},{"p":"GCP2","c":"b","t":889,"v":0.5},{"p":"GCP2","c":"b","t":921,"v":-0.1},{"p":"GCP2","c":"b","t":953,"v":-0.25},{"p":"GCP2","c":"b","t":1000,"v":-0.25},
{"p":"GCP2","c":"r","t":-200,"v":-0.1},{"p":"GCP2","c":"r","t":-171,"v":-0.15},{"p":"GCP2","c":"r","t":-128,"v":0},{"p":"GCP2","c":"r","t":-86,"v":0.2},{"p":"GCP2","c":"r","t":-43,"v":0.45},{"p":"GCP2","c":"r","t":0,"v":0.6},{"p":"GCP2","c":"r","t":43,"v":0.8},{"p":"GCP2","c":"r","t":75,"v":0.55},{"p":"GCP2","c":"r","t":107,"v":0.2},{"p":"GCP2","c":"r","t":139,"v":0.6},{"p":"GCP2","c":"r","t":171,"v":1.6},{"p":"GCP2","c":"r","t":214,"v":2.85},{"p":"GCP2","c":"r","t":246,"v":2.6},{"p":"GCP2","c":"r","t":278,"v":1.6},{"p":"GCP2","c":"r","t":310,"v":0.3},{"p":"GCP2","c":"r","t":343,"v":-0.6},{"p":"GCP2","c":"r","t":375,"v":-0.95},{"p":"GCP2","c":"r","t":439,"v":-0.85},{"p":"GCP2","c":"r","t":493,"v":-0.25},{"p":"GCP2","c":"r","t":557,"v":1.05},{"p":"GCP2","c":"r","t":621,"v":1.35},{"p":"GCP2","c":"r","t":685,"v":1.25},{"p":"GCP2","c":"r","t":728,"v":0.9},{"p":"GCP2","c":"r","t":771,"v":1.8},{"p":"GCP2","c":"r","t":835,"v":3.35},{"p":"GCP2","c":"r","t":878,"v":2.8},{"p":"GCP2","c":"r","t":921,"v":1.05},{"p":"GCP2","c":"r","t":964,"v":0.8},{"p":"GCP2","c":"r","t":1000,"v":0.8},
{"p":"GPz","c":"b","t":-200,"v":-0.2},{"p":"GPz","c":"b","t":-165,"v":-0.25},{"p":"GPz","c":"b","t":-122,"v":0},{"p":"GPz","c":"b","t":-79,"v":0.25},{"p":"GPz","c":"b","t":-36,"v":0.45},{"p":"GPz","c":"b","t":0,"v":0.5},{"p":"GPz","c":"b","t":39,"v":0.55},{"p":"GPz","c":"b","t":81,"v":0.65},{"p":"GPz","c":"b","t":124,"v":0.75},{"p":"GPz","c":"b","t":167,"v":1.35},{"p":"GPz","c":"b","t":210,"v":2.0},{"p":"GPz","c":"b","t":231,"v":2.15},{"p":"GPz","c":"b","t":263,"v":1.15},{"p":"GPz","c":"b","t":296,"v":0.2},{"p":"GPz","c":"b","t":328,"v":-0.75},{"p":"GPz","c":"b","t":360,"v":-1.35},{"p":"GPz","c":"b","t":392,"v":-1.2},{"p":"GPz","c":"b","t":435,"v":-0.9},{"p":"GPz","c":"b","t":478,"v":-0.5},{"p":"GPz","c":"b","t":531,"v":-0.2},{"p":"GPz","c":"b","t":585,"v":0},{"p":"GPz","c":"b","t":638,"v":0.1},{"p":"GPz","c":"b","t":692,"v":0.25},{"p":"GPz","c":"b","t":745,"v":0.4},{"p":"GPz","c":"b","t":788,"v":1.15},{"p":"GPz","c":"b","t":831,"v":2.0},{"p":"GPz","c":"b","t":863,"v":1.5},{"p":"GPz","c":"b","t":895,"v":0.55},{"p":"GPz","c":"b","t":927,"v":0},{"p":"GPz","c":"b","t":959,"v":-0.3},{"p":"GPz","c":"b","t":1000,"v":-0.1},
{"p":"GPz","c":"r","t":-200,"v":-0.2},{"p":"GPz","c":"r","t":-150,"v":-0.2},{"p":"GPz","c":"r","t":-90,"v":0.25},{"p":"GPz","c":"r","t":0,"v":0.55},{"p":"GPz","c":"r","t":60,"v":0.95},{"p":"GPz","c":"r","t":124,"v":1.35},{"p":"GPz","c":"r","t":178,"v":2.0},{"p":"GPz","c":"r","t":221,"v":2.55},{"p":"GPz","c":"r","t":253,"v":2.3},{"p":"GPz","c":"r","t":285,"v":1.35},{"p":"GPz","c":"r","t":317,"v":0.55},{"p":"GPz","c":"r","t":370,"v":-0.2},{"p":"GPz","c":"r","t":413,"v":-0.65},{"p":"GPz","c":"r","t":456,"v":-0.4},{"p":"GPz","c":"r","t":499,"v":0.2},{"p":"GPz","c":"r","t":542,"v":0.95},{"p":"GPz","c":"r","t":595,"v":1.5},{"p":"GPz","c":"r","t":649,"v":1.85},{"p":"GPz","c":"r","t":702,"v":1.9},{"p":"GPz","c":"r","t":745,"v":2.3},{"p":"GPz","c":"r","t":799,"v":2.85},{"p":"GPz","c":"r","t":842,"v":3.45},{"p":"GPz","c":"r","t":874,"v":3.05},{"p":"GPz","c":"r","t":916,"v":1.7},{"p":"GPz","c":"r","t":959,"v":1.05},{"p":"GPz","c":"r","t":1000,"v":0.95}
]
},
"concat": [
{"width": 187, "height": 70,
 "layer": [
  {"data":{"values":[{"a":1}]},"mark":{"type":"rule","color":"#555"},"encoding":{"x":{"datum":-200,"type":"quantitative","scale":{"domain":[-937,263],"nice":false,"zero":false},"axis":null},"x2":{"datum":1000},"y":{"datum":0,"type":"quantitative","scale":{"domain":[-5.03,2.97],"reverse":true,"nice":false,"zero":false},"axis":null}}},
  {"data":{"values":[{"a":1}]},"mark":{"type":"rule","color":"#555"},"encoding":{"x":{"datum":0},"y":{"datum":-3},"y2":{"datum":2.9}}},
  {"data":{"values":[{"a":1}]},"mark":{"type":"rule","color":"#555"},"encoding":{"x":{"datum":-16},"x2":{"datum":16},"y":{"datum":-3}}},
  {"data":{"values":[{"a":1}]},"mark":{"type":"rule","color":"#555"},"encoding":{"x":{"datum":-16},"x2":{"datum":16},"y":{"datum":2.9}}},
  {"data":{"name":"tk"},"mark":{"type":"tick","orient":"vertical","size":4,"thickness":1,"color":"#555"},"encoding":{"x":{"field":"t","type":"quantitative"},"y":{"datum":0}}},
  {"data":{"name":"w"},"transform":[{"filter":"datum.p=='SFz'&&datum.c=='b'"}],"mark":{"type":"line","color":"#333","strokeWidth":1.4,"interpolate":"monotone"},"encoding":{"x":{"field":"t","type":"quantitative"},"y":{"field":"v","type":"quantitative"}}},
  {"data":{"name":"w"},"transform":[{"filter":"datum.p=='SFz'&&datum.c=='r'"}],"mark":{"type":"line","color":"#e4434c","strokeWidth":1.5,"strokeDash":[3,2],"interpolate":"monotone"},"encoding":{"x":{"field":"t","type":"quantitative"},"y":{"field":"v","type":"quantitative"}}},
  {"data":{"values":[{"a":1}]},"mark":{"type":"text","text":"Fz","font":"Liberation Sans","fontSize":14.5,"align":"right","baseline":"alphabetic","color":"#555"},"encoding":{"x":{"datum":-65},"y":{"datum":-2.4}}}
 ]},
{"width": 187, "height": 70, "data":{"values":[{"a":1}]}, "mark":{"type":"text","text":""}},
{"width": 187, "height": 70,
 "layer": [
  {"data":{"values":[{"a":1}]},"mark":{"type":"rule","color":"#555"},"encoding":{"x":{"datum":-200,"type":"quantitative","scale":{"domain":[-1231,-31],"nice":false,"zero":false},"axis":null},"x2":{"datum":1000},"y":{"datum":0,"type":"quantitative","scale":{"domain":[-4.08,3.92],"reverse":true,"nice":false,"zero":false},"axis":null}}},
  {"data":{"values":[{"a":1}]},"mark":{"type":"rule","color":"#555"},"encoding":{"x":{"datum":0},"y":{"datum":-3},"y2":{"datum":2.9}}},
  {"data":{"values":[{"a":1}]},"mark":{"type":"rule","color":"#555"},"encoding":{"x":{"datum":-16},"x2":{"datum":16},"y":{"datum":-3}}},
  {"data":{"values":[{"a":1}]},"mark":{"type":"rule","color":"#555"},"encoding":{"x":{"datum":-16},"x2":{"datum":16},"y":{"datum":2.9}}},
  {"data":{"name":"tk"},"mark":{"type":"tick","orient":"vertical","size":4,"thickness":1,"color":"#555"},"encoding":{"x":{"field":"t","type":"quantitative"},"y":{"datum":0}}},
  {"data":{"name":"w"},"transform":[{"filter":"datum.p=='GFz'&&datum.c=='b'"}],"mark":{"type":"line","color":"#333","strokeWidth":1.4,"interpolate":"monotone"},"encoding":{"x":{"field":"t","type":"quantitative"},"y":{"field":"v","type":"quantitative"}}},
  {"data":{"name":"w"},"transform":[{"filter":"datum.p=='GFz'&&datum.c=='r'"}],"mark":{"type":"line","color":"#e4434c","strokeWidth":1.5,"strokeDash":[3,2],"interpolate":"monotone"},"encoding":{"x":{"field":"t","type":"quantitative"},"y":{"field":"v","type":"quantitative"}}},
  {"data":{"values":[{"a":1}]},"mark":{"type":"text","text":"Fz","font":"Liberation Sans","fontSize":14.5,"align":"right","baseline":"alphabetic","color":"#555"},"encoding":{"x":{"datum":-58},"y":{"datum":-2.9}}}
 ]},
{"width": 187, "height": 70, "data":{"values":[{"a":1}]}, "mark":{"type":"text","text":""}},
{"width": 187, "height": 70,
 "layer": [
  {"data":{"values":[{"a":1}]},"mark":{"type":"rule","color":"#555"},"encoding":{"x":{"datum":-200,"type":"quantitative","scale":{"domain":[-200,1000],"nice":false,"zero":false},"axis":null},"x2":{"datum":1000},"y":{"datum":0,"type":"quantitative","scale":{"domain":[-4.74,3.26],"reverse":true,"nice":false,"zero":false},"axis":null}}},
  {"data":{"values":[{"a":1}]},"mark":{"type":"rule","color":"#555"},"encoding":{"x":{"datum":0},"y":{"datum":-3},"y2":{"datum":2.9}}},
  {"data":{"values":[{"a":1}]},"mark":{"type":"rule","color":"#555"},"encoding":{"x":{"datum":-16},"x2":{"datum":16},"y":{"datum":-3}}},
  {"data":{"values":[{"a":1}]},"mark":{"type":"rule","color":"#555"},"encoding":{"x":{"datum":-16},"x2":{"datum":16},"y":{"datum":2.9}}},
  {"data":{"name":"tk"},"mark":{"type":"tick","orient":"vertical","size":4,"thickness":1,"color":"#555"},"encoding":{"x":{"field":"t","type":"quantitative"},"y":{"datum":0}}},
  {"data":{"name":"w"},"transform":[{"filter":"datum.p=='SFC1'&&datum.c=='b'"}],"mark":{"type":"line","color":"#333","strokeWidth":1.4,"interpolate":"monotone"},"encoding":{"x":{"field":"t","type":"quantitative"},"y":{"field":"v","type":"quantitative"}}},
  {"data":{"name":"w"},"transform":[{"filter":"datum.p=='SFC1'&&datum.c=='r'"}],"mark":{"type":"line","color":"#e4434c","strokeWidth":1.5,"strokeDash":[3,2],"interpolate":"monotone"},"encoding":{"x":{"field":"t","type":"quantitative"},"y":{"field":"v","type":"quantitative"}}},
  {"data":{"values":[{"a":1}]},"mark":{"type":"text","text":"FC1","font":"Liberation Sans","fontSize":14.5,"align":"right","baseline":"alphabetic","color":"#555"},"encoding":{"x":{"datum":-21},"y":{"datum":-2.3}}}
 ]},
{"width": 187, "height": 70,
 "layer": [
  {"data":{"values":[{"a":1}]},"mark":{"type":"rule","color":"#555"},"encoding":{"x":{"datum":-200,"type":"quantitative","scale":{"domain":[-200,1000],"nice":false,"zero":false},"axis":null},"x2":{"datum":1000},"y":{"datum":0,"type":"quantitative","scale":{"domain":[-4.74,3.26],"reverse":true,"nice":false,"zero":false},"axis":null}}},
  {"data":{"values":[{"a":1}]},"mark":{"type":"rule","color":"#555"},"encoding":{"x":{"datum":0},"y":{"datum":-3},"y2":{"datum":2.9}}},
  {"data":{"values":[{"a":1}]},"mark":{"type":"rule","color":"#555"},"encoding":{"x":{"datum":-16},"x2":{"datum":16},"y":{"datum":-3}}},
  {"data":{"values":[{"a":1}]},"mark":{"type":"rule","color":"#555"},"encoding":{"x":{"datum":-16},"x2":{"datum":16},"y":{"datum":2.9}}},
  {"data":{"name":"tk"},"mark":{"type":"tick","orient":"vertical","size":4,"thickness":1,"color":"#555"},"encoding":{"x":{"field":"t","type":"quantitative"},"y":{"datum":0}}},
  {"data":{"name":"w"},"transform":[{"filter":"datum.p=='SFC2'&&datum.c=='b'"}],"mark":{"type":"line","color":"#333","strokeWidth":1.4,"interpolate":"monotone"},"encoding":{"x":{"field":"t","type":"quantitative"},"y":{"field":"v","type":"quantitative"}}},
  {"data":{"name":"w"},"transform":[{"filter":"datum.p=='SFC2'&&datum.c=='r'"}],"mark":{"type":"line","color":"#e4434c","strokeWidth":1.5,"strokeDash":[3,2],"interpolate":"monotone"},"encoding":{"x":{"field":"t","type":"quantitative"},"y":{"field":"v","type":"quantitative"}}},
  {"data":{"values":[{"a":1}]},"mark":{"type":"text","text":"FC2","font":"Liberation Sans","fontSize":14.5,"align":"right","baseline":"alphabetic","color":"#555"},"encoding":{"x":{"datum":-15},"y":{"datum":-2.3}}}
 ]},
{"width": 187, "height": 70,
 "layer": [
  {"data":{"values":[{"a":1}]},"mark":{"type":"rule","color":"#555"},"encoding":{"x":{"datum":-200,"type":"quantitative","scale":{"domain":[-492,708],"nice":false,"zero":false},"axis":null},"x2":{"datum":1000},"y":{"datum":0,"type":"quantitative","scale":{"domain":[-4.29,3.71],"reverse":true,"nice":false,"zero":false},"axis":null}}},
  {"data":{"values":[{"a":1}]},"mark":{"type":"rule","color":"#555"},"encoding":{"x":{"datum":0},"y":{"datum":-3},"y2":{"datum":2.9}}},
  {"data":{"values":[{"a":1}]},"mark":{"type":"rule","color":"#555"},"encoding":{"x":{"datum":-16},"x2":{"datum":16},"y":{"datum":-3}}},
  {"data":{"values":[{"a":1}]},"mark":{"type":"rule","color":"#555"},"encoding":{"x":{"datum":-16},"x2":{"datum":16},"y":{"datum":2.9}}},
  {"data":{"name":"tk"},"mark":{"type":"tick","orient":"vertical","size":4,"thickness":1,"color":"#555"},"encoding":{"x":{"field":"t","type":"quantitative"},"y":{"datum":0}}},
  {"data":{"name":"w"},"transform":[{"filter":"datum.p=='GFC1'&&datum.c=='b'"}],"mark":{"type":"line","color":"#333","strokeWidth":1.4,"interpolate":"monotone"},"encoding":{"x":{"field":"t","type":"quantitative"},"y":{"field":"v","type":"quantitative"}}},
  {"data":{"name":"w"},"transform":[{"filter":"datum.p=='GFC1'&&datum.c=='r'"}],"mark":{"type":"line","color":"#e4434c","strokeWidth":1.5,"strokeDash":[3,2],"interpolate":"monotone"},"encoding":{"x":{"field":"t","type":"quantitative"},"y":{"field":"v","type":"quantitative"}}},
  {"data":{"values":[{"a":1}]},"mark":{"type":"text","text":"FC1","font":"Liberation Sans","fontSize":14.5,"align":"right","baseline":"alphabetic","color":"#555"},"encoding":{"x":{"datum":-30},"y":{"datum":-2.25}}}
 ]},
{"width": 187, "height": 70,
 "layer": [
  {"data":{"values":[{"a":1}]},"mark":{"type":"rule","color":"#555"},"encoding":{"x":{"datum":-200,"type":"quantitative","scale":{"domain":[-492,708],"nice":false,"zero":false},"axis":null},"x2":{"datum":1000},"y":{"datum":0,"type":"quantitative","scale":{"domain":[-4.29,3.71],"reverse":true,"nice":false,"zero":false},"axis":null}}},
  {"data":{"values":[{"a":1}]},"mark":{"type":"rule","color":"#555"},"encoding":{"x":{"datum":0},"y":{"datum":-3},"y2":{"datum":2.9}}},
  {"data":{"values":[{"a":1}]},"mark":{"type":"rule","color":"#555"},"encoding":{"x":{"datum":-16},"x2":{"datum":16},"y":{"datum":-3}}},
  {"data":{"values":[{"a":1}]},"mark":{"type":"rule","color":"#555"},"encoding":{"x":{"datum":-16},"x2":{"datum":16},"y":{"datum":2.9}}},
  {"data":{"name":"tk"},"mark":{"type":"tick","orient":"vertical","size":4,"thickness":1,"color":"#555"},"encoding":{"x":{"field":"t","type":"quantitative"},"y":{"datum":0}}},
  {"data":{"name":"w"},"transform":[{"filter":"datum.p=='GFC2'&&datum.c=='b'"}],"mark":{"type":"line","color":"#333","strokeWidth":1.4,"interpolate":"monotone"},"encoding":{"x":{"field":"t","type":"quantitative"},"y":{"field":"v","type":"quantitative"}}},
  {"data":{"name":"w"},"transform":[{"filter":"datum.p=='GFC2'&&datum.c=='r'"}],"mark":{"type":"line","color":"#e4434c","strokeWidth":1.5,"strokeDash":[3,2],"interpolate":"monotone"},"encoding":{"x":{"field":"t","type":"quantitative"},"y":{"field":"v","type":"quantitative"}}},
  {"data":{"values":[{"a":1}]},"mark":{"type":"text","text":"FC2","font":"Liberation Sans","fontSize":14.5,"align":"right","baseline":"alphabetic","color":"#555"},"encoding":{"x":{"datum":-22},"y":{"datum":-2.25}}}
 ]},
{"width": 187, "height": 70,
 "layer": [
  {"data":{"values":[{"a":1}]},"mark":{"type":"rule","color":"#555"},"encoding":{"x":{"datum":-200,"type":"quantitative","scale":{"domain":[-937,263],"nice":false,"zero":false},"axis":null},"x2":{"datum":1000},"y":{"datum":0,"type":"quantitative","scale":{"domain":[-4.58,3.42],"reverse":true,"nice":false,"zero":false},"axis":null}}},
  {"data":{"values":[{"a":1}]},"mark":{"type":"rule","color":"#555"},"encoding":{"x":{"datum":0},"y":{"datum":-3},"y2":{"datum":2.9}}},
  {"data":{"values":[{"a":1}]},"mark":{"type":"rule","color":"#555"},"encoding":{"x":{"datum":-16},"x2":{"datum":16},"y":{"datum":-3}}},
  {"data":{"values":[{"a":1}]},"mark":{"type":"rule","color":"#555"},"encoding":{"x":{"datum":-16},"x2":{"datum":16},"y":{"datum":2.9}}},
  {"data":{"name":"tk"},"mark":{"type":"tick","orient":"vertical","size":4,"thickness":1,"color":"#555"},"encoding":{"x":{"field":"t","type":"quantitative"},"y":{"datum":0}}},
  {"data":{"name":"w"},"transform":[{"filter":"datum.p=='SCz'&&datum.c=='b'"}],"mark":{"type":"line","color":"#333","strokeWidth":1.4,"interpolate":"monotone"},"encoding":{"x":{"field":"t","type":"quantitative"},"y":{"field":"v","type":"quantitative"}}},
  {"data":{"name":"w"},"transform":[{"filter":"datum.p=='SCz'&&datum.c=='r'"}],"mark":{"type":"line","color":"#e4434c","strokeWidth":1.5,"strokeDash":[3,2],"interpolate":"monotone"},"encoding":{"x":{"field":"t","type":"quantitative"},"y":{"field":"v","type":"quantitative"}}},
  {"data":{"values":[{"a":1}]},"mark":{"type":"text","text":"Cz","font":"Liberation Serif","fontSize":14,"align":"right","baseline":"alphabetic","color":"#444"},"encoding":{"x":{"datum":-66},"y":{"datum":-2.25}}},
  {"data":{"values":[{"a":1}]},"mark":{"type":"text","text":"-3uV","font":"Liberation Serif","fontSize":11.5,"align":"center","baseline":"middle","color":"#222"},"encoding":{"x":{"datum":43},"y":{"datum":-4.1}}},
  {"data":{"values":[{"a":1}]},"mark":{"type":"text","text":"-200ms","font":"Liberation Serif","fontSize":12.5,"align":"right","baseline":"alphabetic","color":"#222"},"encoding":{"x":{"datum":-184},"y":{"datum":1.75}}},
  {"data":{"values":[{"a":1}]},"mark":{"type":"text","text":"1s.","font":"Liberation Serif","fontSize":12.5,"align":"left","baseline":"middle","color":"#222"},"encoding":{"x":{"datum":1012},"y":{"datum":-0.1}}},
  {"data":{"values":[{"a":1}]},"mark":{"type":"text","text":"N400","font":"Liberation Serif","fontSize":17,"align":"center","baseline":"middle","color":"#111"},"encoding":{"x":{"datum":282},"y":{"datum":-5.7}}},
  {"data":{"values":[{"a":1}]},"mark":{"type":"rule","color":"#111"},"encoding":{"x":{"datum":306},"y":{"datum":-4.5},"x2":{"datum":370},"y2":{"datum":-3.05}}},
  {"data":{"values":[{"a":1}]},"mark":{"type":"point","shape":"triangle","size":22,"filled":true,"color":"#111","opacity":1,"angle":141},"encoding":{"x":{"datum":374},"y":{"datum":-3.0}}}
 ]},
{"width": 187, "height": 70, "data":{"values":[{"a":1}]}, "mark":{"type":"text","text":""}},
{"width": 187, "height": 70,
 "layer": [
  {"data":{"values":[{"a":1}]},"mark":{"type":"rule","color":"#555"},"encoding":{"x":{"datum":-200,"type":"quantitative","scale":{"domain":[-1231,-31],"nice":false,"zero":false},"axis":null},"x2":{"datum":1000},"y":{"datum":0,"type":"quantitative","scale":{"domain":[-4.47,3.53],"reverse":true,"nice":false,"zero":false},"axis":null}}},
  {"data":{"values":[{"a":1}]},"mark":{"type":"rule","color":"#555"},"encoding":{"x":{"datum":0},"y":{"datum":-3},"y2":{"datum":2.9}}},
  {"data":{"values":[{"a":1}]},"mark":{"type":"rule","color":"#555"},"encoding":{"x":{"datum":-16},"x2":{"datum":16},"y":{"datum":-3}}},
  {"data":{"values":[{"a":1}]},"mark":{"type":"rule","color":"#555"},"encoding":{"x":{"datum":-16},"x2":{"datum":16},"y":{"datum":2.9}}},
  {"data":{"name":"tk"},"mark":{"type":"tick","orient":"vertical","size":4,"thickness":1,"color":"#555"},"encoding":{"x":{"field":"t","type":"quantitative"},"y":{"datum":0}}},
  {"data":{"name":"w"},"transform":[{"filter":"datum.p=='GCz'&&datum.c=='b'"}],"mark":{"type":"line","color":"#333","strokeWidth":1.4,"interpolate":"monotone"},"encoding":{"x":{"field":"t","type":"quantitative"},"y":{"field":"v","type":"quantitative"}}},
  {"data":{"name":"w"},"transform":[{"filter":"datum.p=='GCz'&&datum.c=='r'"}],"mark":{"type":"line","color":"#e4434c","strokeWidth":1.5,"strokeDash":[3,2],"interpolate":"monotone"},"encoding":{"x":{"field":"t","type":"quantitative"},"y":{"field":"v","type":"quantitative"}}},
  {"data":{"values":[{"a":1}]},"mark":{"type":"text","text":"Cz","font":"Liberation Serif","fontSize":14,"align":"right","baseline":"alphabetic","color":"#444"},"encoding":{"x":{"datum":-49},"y":{"datum":-1.9}}},
  {"data":{"values":[{"a":1}]},"mark":{"type":"text","text":"-3uV","font":"Liberation Serif","fontSize":11.5,"align":"center","baseline":"middle","color":"#222"},"encoding":{"x":{"datum":79},"y":{"datum":-4.1}}},
  {"data":{"values":[{"a":1}]},"mark":{"type":"text","text":"-200ms","font":"Liberation Serif","fontSize":12.5,"align":"right","baseline":"alphabetic","color":"#222"},"encoding":{"x":{"datum":-165},"y":{"datum":2.1}}},
  {"data":{"values":[{"a":1}]},"mark":{"type":"text","text":"1s.","font":"Liberation Serif","fontSize":12.5,"align":"left","baseline":"middle","color":"#222"},"encoding":{"x":{"datum":1013},"y":{"datum":0}}}
 ]},
{"width": 187, "height": 70, "data":{"values":[{"a":1}]}, "mark":{"type":"text","text":""}},
{"width": 187, "height": 70,
 "layer": [
  {"data":{"values":[{"a":1}]},"mark":{"type":"rule","color":"#555"},"encoding":{"x":{"datum":-200,"type":"quantitative","scale":{"domain":[-200,1000],"nice":false,"zero":false},"axis":null},"x2":{"datum":1000},"y":{"datum":0,"type":"quantitative","scale":{"domain":[-4.35,3.65],"reverse":true,"nice":false,"zero":false},"axis":null}}},
  {"data":{"values":[{"a":1}]},"mark":{"type":"rule","color":"#555"},"encoding":{"x":{"datum":0},"y":{"datum":-3},"y2":{"datum":2.9}}},
  {"data":{"values":[{"a":1}]},"mark":{"type":"rule","color":"#555"},"encoding":{"x":{"datum":-16},"x2":{"datum":16},"y":{"datum":-3}}},
  {"data":{"values":[{"a":1}]},"mark":{"type":"rule","color":"#555"},"encoding":{"x":{"datum":-16},"x2":{"datum":16},"y":{"datum":2.9}}},
  {"data":{"name":"tk"},"mark":{"type":"tick","orient":"vertical","size":4,"thickness":1,"color":"#555"},"encoding":{"x":{"field":"t","type":"quantitative"},"y":{"datum":0}}},
  {"data":{"name":"w"},"transform":[{"filter":"datum.p=='SCP1'&&datum.c=='b'"}],"mark":{"type":"line","color":"#333","strokeWidth":1.4,"interpolate":"monotone"},"encoding":{"x":{"field":"t","type":"quantitative"},"y":{"field":"v","type":"quantitative"}}},
  {"data":{"name":"w"},"transform":[{"filter":"datum.p=='SCP1'&&datum.c=='r'"}],"mark":{"type":"line","color":"#e4434c","strokeWidth":1.5,"strokeDash":[3,2],"interpolate":"monotone"},"encoding":{"x":{"field":"t","type":"quantitative"},"y":{"field":"v","type":"quantitative"}}},
  {"data":{"values":[{"a":1}]},"mark":{"type":"text","text":"CP1","font":"Liberation Sans","fontSize":14.5,"align":"right","baseline":"alphabetic","color":"#555"},"encoding":{"x":{"datum":-16},"y":{"datum":-2.3}}},
  {"data":{"values":[{"a":1}]},"mark":{"type":"rule","color":"#111"},"encoding":{"x":{"datum":329},"y":{"datum":-3.8},"x2":{"datum":390},"y2":{"datum":-2.2}}},
  {"data":{"values":[{"a":1}]},"mark":{"type":"point","shape":"triangle","size":22,"filled":true,"color":"#111","opacity":1,"angle":144},"encoding":{"x":{"datum":394},"y":{"datum":-2.1}}}
 ]},
{"width": 187, "height": 70,
 "layer": [
  {"data":{"values":[{"a":1}]},"mark":{"type":"rule","color":"#555"},"encoding":{"x":{"datum":-200,"type":"quantitative","scale":{"domain":[-200,1000],"nice":false,"zero":false},"axis":null},"x2":{"datum":1000},"y":{"datum":0,"type":"quantitative","scale":{"domain":[-4.35,3.65],"reverse":true,"nice":false,"zero":false},"axis":null}}},
  {"data":{"values":[{"a":1}]},"mark":{"type":"rule","color":"#555"},"encoding":{"x":{"datum":0},"y":{"datum":-3},"y2":{"datum":2.9}}},
  {"data":{"values":[{"a":1}]},"mark":{"type":"rule","color":"#555"},"encoding":{"x":{"datum":-16},"x2":{"datum":16},"y":{"datum":-3}}},
  {"data":{"values":[{"a":1}]},"mark":{"type":"rule","color":"#555"},"encoding":{"x":{"datum":-16},"x2":{"datum":16},"y":{"datum":2.9}}},
  {"data":{"name":"tk"},"mark":{"type":"tick","orient":"vertical","size":4,"thickness":1,"color":"#555"},"encoding":{"x":{"field":"t","type":"quantitative"},"y":{"datum":0}}},
  {"data":{"name":"w"},"transform":[{"filter":"datum.p=='SCP2'&&datum.c=='b'"}],"mark":{"type":"line","color":"#333","strokeWidth":1.4,"interpolate":"monotone"},"encoding":{"x":{"field":"t","type":"quantitative"},"y":{"field":"v","type":"quantitative"}}},
  {"data":{"name":"w"},"transform":[{"filter":"datum.p=='SCP2'&&datum.c=='r'"}],"mark":{"type":"line","color":"#e4434c","strokeWidth":1.5,"strokeDash":[3,2],"interpolate":"monotone"},"encoding":{"x":{"field":"t","type":"quantitative"},"y":{"field":"v","type":"quantitative"}}},
  {"data":{"values":[{"a":1}]},"mark":{"type":"text","text":"CP2","font":"Liberation Sans","fontSize":14.5,"align":"right","baseline":"alphabetic","color":"#555"},"encoding":{"x":{"datum":-11},"y":{"datum":-2.3}}},
  {"data":{"values":[{"a":1}]},"mark":{"type":"rule","color":"#111"},"encoding":{"x":{"datum":359},"y":{"datum":-4.8},"x2":{"datum":422},"y2":{"datum":-3.25}}},
  {"data":{"values":[{"a":1}]},"mark":{"type":"point","shape":"triangle","size":22,"filled":true,"color":"#111","opacity":1,"angle":144},"encoding":{"x":{"datum":426},"y":{"datum":-3.15}}}
 ]},
{"width": 187, "height": 70,
 "layer": [
  {"data":{"values":[{"a":1}]},"mark":{"type":"rule","color":"#555"},"encoding":{"x":{"datum":-200,"type":"quantitative","scale":{"domain":[-492,708],"nice":false,"zero":false},"axis":null},"x2":{"datum":1000},"y":{"datum":0,"type":"quantitative","scale":{"domain":[-4.61,3.39],"reverse":true,"nice":false,"zero":false},"axis":null}}},
  {"data":{"values":[{"a":1}]},"mark":{"type":"rule","color":"#555"},"encoding":{"x":{"datum":0},"y":{"datum":-3},"y2":{"datum":2.9}}},
  {"data":{"values":[{"a":1}]},"mark":{"type":"rule","color":"#555"},"encoding":{"x":{"datum":-16},"x2":{"datum":16},"y":{"datum":-3}}},
  {"data":{"values":[{"a":1}]},"mark":{"type":"rule","color":"#555"},"encoding":{"x":{"datum":-16},"x2":{"datum":16},"y":{"datum":2.9}}},
  {"data":{"name":"tk"},"mark":{"type":"tick","orient":"vertical","size":4,"thickness":1,"color":"#555"},"encoding":{"x":{"field":"t","type":"quantitative"},"y":{"datum":0}}},
  {"data":{"name":"w"},"transform":[{"filter":"datum.p=='GCP1'&&datum.c=='b'"}],"mark":{"type":"line","color":"#333","strokeWidth":1.4,"interpolate":"monotone"},"encoding":{"x":{"field":"t","type":"quantitative"},"y":{"field":"v","type":"quantitative"}}},
  {"data":{"name":"w"},"transform":[{"filter":"datum.p=='GCP1'&&datum.c=='r'"}],"mark":{"type":"line","color":"#e4434c","strokeWidth":1.5,"strokeDash":[3,2],"interpolate":"monotone"},"encoding":{"x":{"field":"t","type":"quantitative"},"y":{"field":"v","type":"quantitative"}}},
  {"data":{"values":[{"a":1}]},"mark":{"type":"text","text":"CP1","font":"Liberation Sans","fontSize":14.5,"align":"right","baseline":"alphabetic","color":"#555"},"encoding":{"x":{"datum":-30},"y":{"datum":-2.35}}},
  {"data":{"values":[{"a":1}]},"mark":{"type":"rule","color":"#111"},"encoding":{"x":{"datum":580},"y":{"datum":4.26},"x2":{"datum":648},"y2":{"datum":2.95}}},
  {"data":{"values":[{"a":1}]},"mark":{"type":"point","shape":"triangle","size":22,"filled":true,"color":"#111","opacity":1,"angle":43},"encoding":{"x":{"datum":652},"y":{"datum":2.85}}}
 ]},
{"width": 187, "height": 70,
 "layer": [
  {"data":{"values":[{"a":1}]},"mark":{"type":"rule","color":"#555"},"encoding":{"x":{"datum":-200,"type":"quantitative","scale":{"domain":[-492,708],"nice":false,"zero":false},"axis":null},"x2":{"datum":1000},"y":{"datum":0,"type":"quantitative","scale":{"domain":[-4.61,3.39],"reverse":true,"nice":false,"zero":false},"axis":null}}},
  {"data":{"values":[{"a":1}]},"mark":{"type":"rule","color":"#555"},"encoding":{"x":{"datum":0},"y":{"datum":-3},"y2":{"datum":2.9}}},
  {"data":{"values":[{"a":1}]},"mark":{"type":"rule","color":"#555"},"encoding":{"x":{"datum":-16},"x2":{"datum":16},"y":{"datum":-3}}},
  {"data":{"values":[{"a":1}]},"mark":{"type":"rule","color":"#555"},"encoding":{"x":{"datum":-16},"x2":{"datum":16},"y":{"datum":2.9}}},
  {"data":{"name":"tk"},"mark":{"type":"tick","orient":"vertical","size":4,"thickness":1,"color":"#555"},"encoding":{"x":{"field":"t","type":"quantitative"},"y":{"datum":0}}},
  {"data":{"name":"w"},"transform":[{"filter":"datum.p=='GCP2'&&datum.c=='b'"}],"mark":{"type":"line","color":"#333","strokeWidth":1.4,"interpolate":"monotone"},"encoding":{"x":{"field":"t","type":"quantitative"},"y":{"field":"v","type":"quantitative"}}},
  {"data":{"name":"w"},"transform":[{"filter":"datum.p=='GCP2'&&datum.c=='r'"}],"mark":{"type":"line","color":"#e4434c","strokeWidth":1.5,"strokeDash":[3,2],"interpolate":"monotone"},"encoding":{"x":{"field":"t","type":"quantitative"},"y":{"field":"v","type":"quantitative"}}},
  {"data":{"values":[{"a":1}]},"mark":{"type":"text","text":"CP2","font":"Liberation Sans","fontSize":14.5,"align":"right","baseline":"alphabetic","color":"#555"},"encoding":{"x":{"datum":-22},"y":{"datum":-2.35}}},
  {"data":{"values":[{"a":1}]},"mark":{"type":"rule","color":"#111"},"encoding":{"x":{"datum":674},"y":{"datum":4.1},"x2":{"datum":730},"y2":{"datum":2.85}}},
  {"data":{"values":[{"a":1}]},"mark":{"type":"point","shape":"triangle","size":22,"filled":true,"color":"#111","opacity":1,"angle":39},"encoding":{"x":{"datum":734},"y":{"datum":2.75}}},
  {"data":{"values":[{"a":1}]},"mark":{"type":"text","text":"P600","font":"Liberation Serif","fontSize":17,"align":"center","baseline":"middle","color":"#111"},"encoding":{"x":{"datum":530},"y":{"datum":5.35}}}
 ]},
{"width": 187, "height": 70,
 "layer": [
  {"data":{"values":[{"a":1}]},"mark":{"type":"rule","color":"#555"},"encoding":{"x":{"datum":-200,"type":"quantitative","scale":{"domain":[-937,263],"nice":false,"zero":false},"axis":null},"x2":{"datum":1000},"y":{"datum":0,"type":"quantitative","scale":{"domain":[-4.32,3.68],"reverse":true,"nice":false,"zero":false},"axis":null}}},
  {"data":{"values":[{"a":1}]},"mark":{"type":"rule","color":"#555"},"encoding":{"x":{"datum":0},"y":{"datum":-3},"y2":{"datum":2.9}}},
  {"data":{"values":[{"a":1}]},"mark":{"type":"rule","color":"#555"},"encoding":{"x":{"datum":-16},"x2":{"datum":16},"y":{"datum":-3}}},
  {"data":{"values":[{"a":1}]},"mark":{"type":"rule","color":"#555"},"encoding":{"x":{"datum":-16},"x2":{"datum":16},"y":{"datum":2.9}}},
  {"data":{"name":"tk"},"mark":{"type":"tick","orient":"vertical","size":4,"thickness":1,"color":"#555"},"encoding":{"x":{"field":"t","type":"quantitative"},"y":{"datum":0}}},
  {"data":{"name":"w"},"transform":[{"filter":"datum.p=='SPz'&&datum.c=='b'"}],"mark":{"type":"line","color":"#333","strokeWidth":1.4,"interpolate":"monotone"},"encoding":{"x":{"field":"t","type":"quantitative"},"y":{"field":"v","type":"quantitative"}}},
  {"data":{"name":"w"},"transform":[{"filter":"datum.p=='SPz'&&datum.c=='r'"}],"mark":{"type":"line","color":"#e4434c","strokeWidth":1.5,"strokeDash":[3,2],"interpolate":"monotone"},"encoding":{"x":{"field":"t","type":"quantitative"},"y":{"field":"v","type":"quantitative"}}},
  {"data":{"values":[{"a":1}]},"mark":{"type":"text","text":"Pz","font":"Liberation Sans","fontSize":14.5,"align":"right","baseline":"alphabetic","color":"#555"},"encoding":{"x":{"datum":-70},"y":{"datum":-2.2}}},
  {"data":{"values":[{"a":1}]},"mark":{"type":"text","text":"Semantics","font":"Liberation Serif","fontSize":23,"fontWeight":"bold","align":"center","baseline":"middle","color":"#000"},"encoding":{"x":{"datum":364},"y":{"datum":7.0}}}
 ]},
{"width": 187, "height": 70, "data":{"values":[{"a":1}]}, "mark":{"type":"text","text":""}},
{"width": 187, "height": 70,
 "layer": [
  {"data":{"values":[{"a":1}]},"mark":{"type":"rule","color":"#555"},"encoding":{"x":{"datum":-200,"type":"quantitative","scale":{"domain":[-1231,-31],"nice":false,"zero":false},"axis":null},"x2":{"datum":1000},"y":{"datum":0,"type":"quantitative","scale":{"domain":[-4.78,3.22],"reverse":true,"nice":false,"zero":false},"axis":null}}},
  {"data":{"values":[{"a":1}]},"mark":{"type":"rule","color":"#555"},"encoding":{"x":{"datum":0},"y":{"datum":-3},"y2":{"datum":2.9}}},
  {"data":{"values":[{"a":1}]},"mark":{"type":"rule","color":"#555"},"encoding":{"x":{"datum":-16},"x2":{"datum":16},"y":{"datum":-3}}},
  {"data":{"values":[{"a":1}]},"mark":{"type":"rule","color":"#555"},"encoding":{"x":{"datum":-16},"x2":{"datum":16},"y":{"datum":2.9}}},
  {"data":{"name":"tk"},"mark":{"type":"tick","orient":"vertical","size":4,"thickness":1,"color":"#555"},"encoding":{"x":{"field":"t","type":"quantitative"},"y":{"datum":0}}},
  {"data":{"name":"w"},"transform":[{"filter":"datum.p=='GPz'&&datum.c=='b'"}],"mark":{"type":"line","color":"#333","strokeWidth":1.4,"interpolate":"monotone"},"encoding":{"x":{"field":"t","type":"quantitative"},"y":{"field":"v","type":"quantitative"}}},
  {"data":{"name":"w"},"transform":[{"filter":"datum.p=='GPz'&&datum.c=='r'"}],"mark":{"type":"line","color":"#e4434c","strokeWidth":1.5,"strokeDash":[3,2],"interpolate":"monotone"},"encoding":{"x":{"field":"t","type":"quantitative"},"y":{"field":"v","type":"quantitative"}}},
  {"data":{"values":[{"a":1}]},"mark":{"type":"text","text":"Pz","font":"Liberation Sans","fontSize":14.5,"align":"right","baseline":"alphabetic","color":"#555"},"encoding":{"x":{"datum":-58},"y":{"datum":-2.3}}},
  {"data":{"values":[{"a":1}]},"mark":{"type":"rule","color":"#111"},"encoding":{"x":{"datum":608},"y":{"datum":4.0},"x2":{"datum":670},"y2":{"datum":2.8}}},
  {"data":{"values":[{"a":1}]},"mark":{"type":"point","shape":"triangle","size":22,"filled":true,"color":"#111","opacity":1,"angle":42},"encoding":{"x":{"datum":674},"y":{"datum":2.7}}},
  {"data":{"values":[{"a":1}]},"mark":{"type":"text","text":"Grammar","font":"Liberation Serif","fontSize":22,"fontWeight":"bold","align":"center","baseline":"middle","color":"#000"},"encoding":{"x":{"datum":370},"y":{"datum":6.5}}}
 ]},
{"width": 187, "height": 70, "data":{"values":[{"a":1}]}, "mark":{"type":"text","text":""}}
]
}
